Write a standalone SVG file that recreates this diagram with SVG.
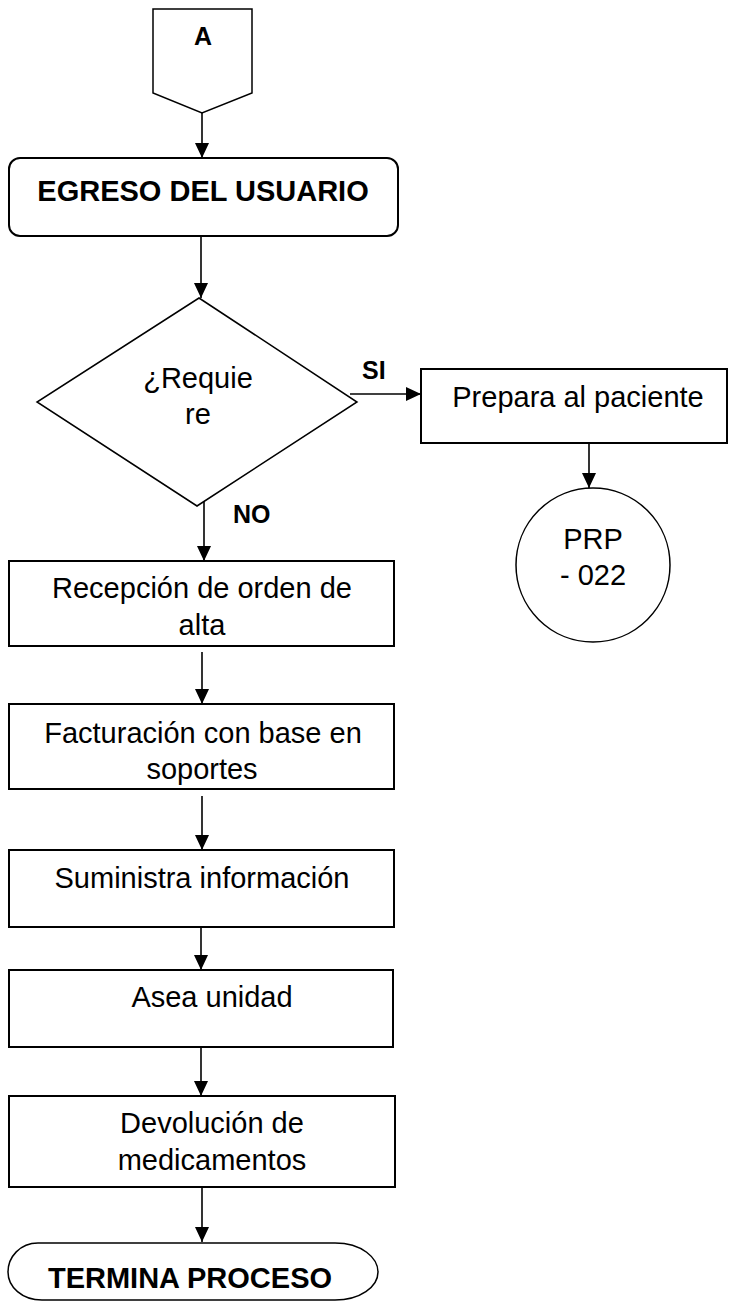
<svg xmlns="http://www.w3.org/2000/svg" width="729" height="1306" viewBox="0 0 729 1306">
<defs>
<style>
.s{fill:#fff;stroke:#000;stroke-width:2}
.d{fill:#fff;stroke:#000;stroke-width:1.5}
.t{font-family:"Liberation Sans",Arial,sans-serif;font-size:29px;fill:#000;text-anchor:middle}
.b{font-weight:bold}
.c{stroke:#000;stroke-width:1.6;fill:none;marker-end:url(#ah)}
.l{font-family:"Liberation Sans",Arial,sans-serif;font-size:25px;font-weight:bold;fill:#000}
</style>
<marker id="ah" markerUnits="userSpaceOnUse" markerWidth="15" markerHeight="14" refX="15" refY="7" orient="auto">
<path d="M0,0 L15,7 L0,14 Z" fill="#000"/>
</marker>
</defs>
<rect width="729" height="1306" fill="#fff"/>
<g id="connectors">
<line class="c" x1="202" y1="113" x2="202" y2="158"/>
<line class="c" x1="201" y1="236" x2="201" y2="298"/>
<line class="c" x1="350" y1="394" x2="421" y2="394"/>
<line class="c" x1="589" y1="443" x2="589" y2="488"/>
<line class="c" x1="204" y1="498" x2="204" y2="561"/>
<line class="c" x1="202" y1="652" x2="202" y2="704"/>
<line class="c" x1="202" y1="796" x2="202" y2="850"/>
<line class="c" x1="201" y1="927" x2="201" y2="970"/>
<line class="c" x1="201" y1="1042" x2="201" y2="1096"/>
<line class="c" x1="202" y1="1187" x2="202" y2="1242"/>
<text class="l" x="362" y="379">SI</text>
<text class="l" x="233" y="523">NO</text>
</g>
<g id="connector-a">
<polygon class="d" points="153,9 252,9 252,93 202,113 153,93"/>
<text class="t b" x="203" y="45" style="font-size:25px">A</text>
</g>
<g id="egreso">
<rect class="s" x="9" y="158" width="389" height="78" rx="11"/>
<text class="t b" x="203" y="201">EGRESO DEL USUARIO</text>
</g>
<g id="decision">
<polygon class="d" points="199,298 357,402 197,506 37,402"/>
<text class="t" x="198" y="388">¿Requie</text>
<text class="t" x="198" y="424">re</text>
</g>
<g id="prepara">
<rect class="s" x="421" y="369" width="306" height="74"/>
<text class="t" x="578" y="407">Prepara al paciente</text>
</g>
<g id="prp022">
<circle class="d" cx="593" cy="565" r="77"/>
<text class="t" x="593" y="549">PRP</text>
<text class="t" x="593" y="585">- 022</text>
</g>
<g id="recepcion">
<rect class="s" x="9" y="561" width="385" height="85"/>
<text class="t" x="202" y="598">Recepción de orden de</text>
<text class="t" x="202" y="635">alta</text>
</g>
<g id="facturacion">
<rect class="s" x="9" y="704" width="385" height="85"/>
<text class="t" x="203" y="743">Facturación con base en</text>
<text class="t" x="202" y="779">soportes</text>
</g>
<g id="suministra">
<rect class="s" x="9" y="850" width="385" height="77"/>
<text class="t" x="202" y="888">Suministra información</text>
</g>
<g id="asea">
<rect class="s" x="9" y="970" width="384" height="77"/>
<text class="t" x="212" y="1007">Asea unidad</text>
</g>
<g id="devolucion">
<rect class="s" x="9" y="1096" width="386" height="91"/>
<text class="t" x="212" y="1133">Devolución de</text>
<text class="t" x="212" y="1170">medicamentos</text>
</g>
<g id="termina">
<path class="d" d="M38,1243 H335 C362,1243 378,1258 378,1272 C378,1287 360,1300 335,1300 H42 C22,1300 8,1287 8,1272 C8,1257 20,1243 38,1243 Z"/>
<text class="t b" x="190" y="1288">TERMINA PROCESO</text>
</g>
</svg>
